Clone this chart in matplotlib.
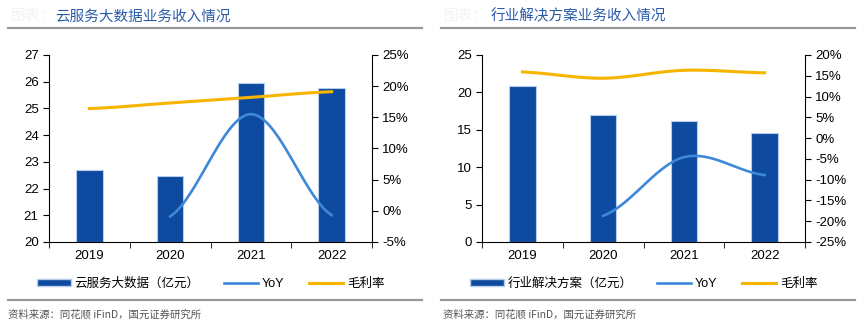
import matplotlib.pyplot as plt
from matplotlib.lines import Line2D
from matplotlib.patches import Patch
import numpy as np

plt.rcParams['font.family'] = ['Liberation Sans', 'Noto Sans CJK SC', 'DejaVu Sans']
plt.rcParams['axes.unicode_minus'] = False
cjk = ['Noto Sans CJK SC', 'DejaVu Sans']

years = ['2019', '2020', '2021', '2022']

# 云服务大数据
cloud_rev = [22.68, 22.48, 25.94, 25.75]
cloud_yoy = [None, -0.9, 15.5, -0.7]
cloud_margin = [16.4, 17.3, 18.2, 19.1]

# 行业解决方案
ind_rev = [20.83, 16.93, 16.13, 14.63]
ind_yoy = [None, -18.7, -4.6, -8.9]
ind_margin = [15.9, 14.4, 16.3, 15.7]

bar_c = '#0d4aa0'
yoy_c = '#3d88d8'
mar_c = '#f7b500'
title_c = '#2a5ba8'


def smooth(xs, ys, n=40):
    # catmull-rom style smoothing, like excel's smoothed line
    xs = np.asarray(xs, float)
    ys = np.asarray(ys, float)
    px = np.concatenate([[2 * xs[0] - xs[1]], xs, [2 * xs[-1] - xs[-2]]])
    py = np.concatenate([[ys[0]], ys, [ys[-1]]])
    outx, outy = [], []
    for i in range(1, len(px) - 2):
        t = np.linspace(0, 1, n)
        for p, out in ((px, outx), (py, outy)):
            p0, p1, p2, p3 = p[i - 1], p[i], p[i + 1], p[i + 2]
            out.extend(0.5 * ((2 * p1) + (-p0 + p2) * t
                              + (2 * p0 - 5 * p1 + 4 * p2 - p3) * t ** 2
                              + (-p0 + 3 * p1 - 3 * p2 + p3) * t ** 3))
    return outx, outy


def panel(ax, rev, yoy, margin, ylim, yticks, y2lim, y2ticks, name):
    x = np.arange(len(years))
    ax.bar(x, [r - ylim[0] for r in rev], bottom=ylim[0], width=0.33,
           color=bar_c, edgecolor='#b7cdec', linewidth=0.8, zorder=2)
    ax.set_xlim(-0.5, 3.5)
    ax.set_ylim(*ylim)
    ax.set_yticks(yticks)
    ax.set_xticks(x)
    ax.set_xticklabels(years)
    ax.set_xticks(np.arange(-0.5, 4, 1), minor=True)
    ax.tick_params(axis='x', which='major', length=0, pad=6, labelsize=9.5)
    ax.tick_params(axis='x', which='minor', length=4, direction='out')
    ax.tick_params(axis='y', length=4, direction='out', labelsize=9.5)
    for s in ['top', 'right']:
        ax.spines[s].set_visible(False)

    ax2 = ax.twinx()
    ax2.set_ylim(*y2lim)
    ax2.set_yticks(y2ticks)
    ax2.set_yticklabels([f'{v}%' for v in y2ticks])
    ax2.tick_params(axis='y', length=4, direction='out', labelsize=9.5)
    for s in ['top', 'left', 'bottom']:
        ax2.spines[s].set_visible(False)

    yx = [i for i, v in enumerate(yoy) if v is not None]
    yv = [v for v in yoy if v is not None]
    sx, sy = smooth(yx, yv)
    ax2.plot(sx, sy, color=yoy_c, lw=1.9, zorder=3)
    mx, my = smooth(x, margin)
    ax2.plot(mx, my, color=mar_c, lw=2.2, zorder=3)

    handles = [Patch(facecolor=bar_c, edgecolor='#b7cdec'),
               Line2D([], [], color=yoy_c, lw=1.9),
               Line2D([], [], color=mar_c, lw=2.2)]
    ax.legend(handles, [name + '（亿元）', 'YoY', '毛利率'], ncol=3,
              loc='upper center', bbox_to_anchor=(0.5, -0.13), frameon=False,
              fontsize=9, handlelength=2.7, handleheight=0.5,
              handletextpad=0.3, columnspacing=2.0)
    return ax2


fig = plt.figure(figsize=(8.66, 3.27), dpi=100)
axl = fig.add_axes([0.0566, 0.26, 0.373, 0.572])
axr = fig.add_axes([0.5566, 0.26, 0.373, 0.572])

panel(axl, cloud_rev, cloud_yoy, cloud_margin, (20, 27), range(20, 28),
      (-5, 25), list(range(-5, 30, 5)), '云服务大数据')
panel(axr, ind_rev, ind_yoy, ind_margin, (0, 25), range(0, 30, 5),
      (-25, 20), list(range(-25, 25, 5)), '行业解决方案')

# titles
fig.text(0.012, 0.95, '图表：', color='#f3f3f3', fontsize=10.5, va='center',
         family=cjk)
fig.text(0.064, 0.95, '云服务大数据业务收入情况', color=title_c, fontsize=10.5,
         va='center', family=cjk)
fig.text(0.512, 0.95, '图表：', color='#f3f3f3', fontsize=10.5, va='center',
         family=cjk)
fig.text(0.566, 0.95, '行业解决方案业务收入情况', color=title_c, fontsize=10.5,
         va='center', family=cjk)

# separators
for x0, x1 in [(0.009, 0.487), (0.509, 0.987)]:
    fig.add_artist(Line2D([x0, x1], [0.913, 0.913], color='#999999', lw=1.6,
                          transform=fig.transFigure))
    fig.add_artist(Line2D([x0, x1], [0.083, 0.083], color='#999999', lw=1.6,
                          transform=fig.transFigure))

fig.text(0.009, 0.038, '资料来源：同花顺 iFinD，国元证券研究所', color='#555555',
         fontsize=7.5, va='center', family=cjk)
fig.text(0.511, 0.038, '资料来源：同花顺 iFinD，国元证券研究所', color='#555555',
         fontsize=7.5, va='center', family=cjk)

fig.savefig('out.png', dpi=100)
